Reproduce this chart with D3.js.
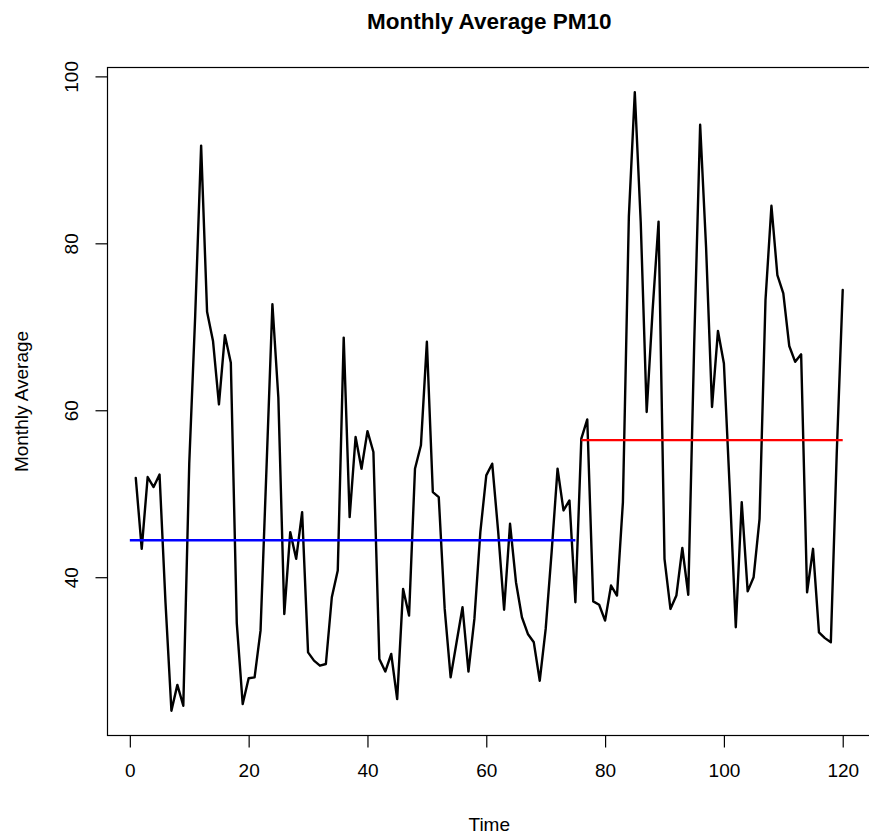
<!DOCTYPE html>
<html>
<head>
<meta charset="utf-8">
<script src="https://cdn.jsdelivr.net/npm/d3@7"></script>
<style>
  body { margin: 0; background: #fff; }
  svg text { font-family: "Liberation Sans", Arial, sans-serif; }
</style>
</head>
<body>
<div id="chart"></div>
<script>
// monthly average PM10, months 1..120
var pm10 = [
  51.9, 43.4, 52.0, 50.8, 52.3, 37.0, 24.0, 27.1, 24.6, 53.6,
  71.3, 91.7, 71.8, 68.3, 60.7, 69.0, 65.7, 34.5, 24.8, 27.9,
  28.0, 33.6, 53.0, 72.7, 61.5, 35.6, 45.4, 42.2, 47.8, 31.0,
  30.0, 29.4, 29.6, 37.6, 40.8, 68.7, 47.2, 56.8, 53.0, 57.5,
  55.0, 30.2, 28.7, 30.8, 25.4, 38.6, 35.4, 53.0, 55.8, 68.2,
  50.2, 49.6, 36.2, 28.0, 32.2, 36.4, 28.7, 35.0, 45.4, 52.2,
  53.6, 45.5, 36.1, 46.4, 39.4, 35.2, 33.2, 32.2, 27.6, 33.8,
  43.0, 53.0, 48.0, 49.2, 37.0, 56.6, 58.9, 37.1, 36.7, 34.8,
  39.0, 37.8, 49.0, 83.2, 98.1, 82.5, 59.8, 72.0, 82.6, 42.2,
  36.2, 37.8, 43.5, 37.9, 68.0, 94.2, 79.5, 60.4, 69.5, 65.6,
  50.3, 34.0, 49.0, 38.3, 40.0, 47.0, 73.2, 84.5, 76.2, 74.0,
  67.7, 65.8, 66.7, 38.2, 43.4, 33.4, 32.7, 32.2, 55.0, 74.4
];

// the two period means: first 75 months and the rest
var periodFrom = [0, 76];
var periodTo = [75, 120];
var periodSplit = 75;

var xTicks = [0, 20, 40, 60, 80, 100, 120];
var yTicks = [40, 60, 80, 100];

var svgWidth = 869;
var svgHeight = 836;

// plot box (R style), right edge falls just outside the picture
var margin = { top: 67.5, left: 107.5 };
var width = 763.5;
var height = 668;

var svg = d3.select("#chart")
  .append("svg")
  .attr("width", svgWidth)
  .attr("height", svgHeight);

var chartGroup = svg.append("g")
  .attr("transform", `translate(${margin.left}, ${margin.top})`);

var data = pm10.map((v, i) => ({ t: i + 1, v: v }));

// R pads the data range by 4% on each side
var xr = [1, pm10.length];
var xpad = (xr[1] - xr[0]) * 0.04;
var xScale = d3.scaleLinear()
  .domain([xr[0] - xpad, xr[1] + xpad])
  .range([0, width]);

var yr = d3.extent(pm10);
var ypad = (yr[1] - yr[0]) * 0.04;
var yScale = d3.scaleLinear()
  .domain([yr[0] - ypad, yr[1] + ypad])
  .range([height, 0]);

// axes
var bottomAxis = d3.axisBottom(xScale).tickValues(xTicks).tickSize(12).tickPadding(16).tickSizeOuter(0);
var leftAxis = d3.axisLeft(yScale).tickValues(yTicks).tickSize(12).tickSizeOuter(0);

var gx = chartGroup.append("g")
  .attr("transform", `translate(0, ${height})`)
  .call(bottomAxis);
gx.select(".domain").remove();
gx.selectAll("line").attr("stroke", "#000").attr("stroke-width", 1.2);
gx.selectAll("text").attr("font-size", 19).attr("fill", "#000");

var gy = chartGroup.append("g")
  .call(leftAxis);
gy.select(".domain").remove();
gy.selectAll("line").attr("stroke", "#000").attr("stroke-width", 1.2);
gy.selectAll("text")
  .attr("font-size", 19)
  .attr("fill", "#000")
  .attr("x", null)
  .attr("dy", null)
  .attr("text-anchor", "middle")
  .attr("transform", "translate(-29.5,0) rotate(-90)");

// series
var line = d3.line()
  .x(d => xScale(d.t))
  .y(d => yScale(d.v));

chartGroup.append("path")
  .datum(data)
  .attr("fill", "none")
  .attr("stroke", "#000")
  .attr("stroke-width", 2.4)
  .attr("stroke-linejoin", "round")
  .attr("stroke-linecap", "round")
  .attr("d", line);

// mean lines
var means = [d3.mean(pm10.slice(0, periodSplit)), d3.mean(pm10.slice(periodSplit))];
var meanColors = ["#0000ff", "#ff0000"];

chartGroup.selectAll(".mean")
  .data(means)
  .enter()
  .append("line")
  .attr("class", "mean")
  .attr("x1", (d, i) => xScale(periodFrom[i]))
  .attr("x2", (d, i) => xScale(periodTo[i]))
  .attr("y1", d => yScale(d))
  .attr("y2", d => yScale(d))
  .attr("stroke", (d, i) => meanColors[i])
  .attr("stroke-width", 2.4);

// box
chartGroup.append("rect")
  .attr("width", width)
  .attr("height", height)
  .attr("fill", "none")
  .attr("stroke", "#000")
  .attr("stroke-width", 1.2);

// titles
svg.append("text")
  .attr("x", margin.left + width / 2)
  .attr("y", 29)
  .attr("text-anchor", "middle")
  .attr("font-size", 22.5)
  .attr("font-weight", "bold")
  .text("Monthly Average PM10");

svg.append("text")
  .attr("x", margin.left + width / 2)
  .attr("y", 831)
  .attr("text-anchor", "middle")
  .attr("font-size", 19)
  .text("Time");

svg.append("text")
  .attr("transform", `translate(28, ${margin.top + height / 2}) rotate(-90)`)
  .attr("text-anchor", "middle")
  .attr("font-size", 19)
  .text("Monthly Average");
</script>
</body>
</html>
